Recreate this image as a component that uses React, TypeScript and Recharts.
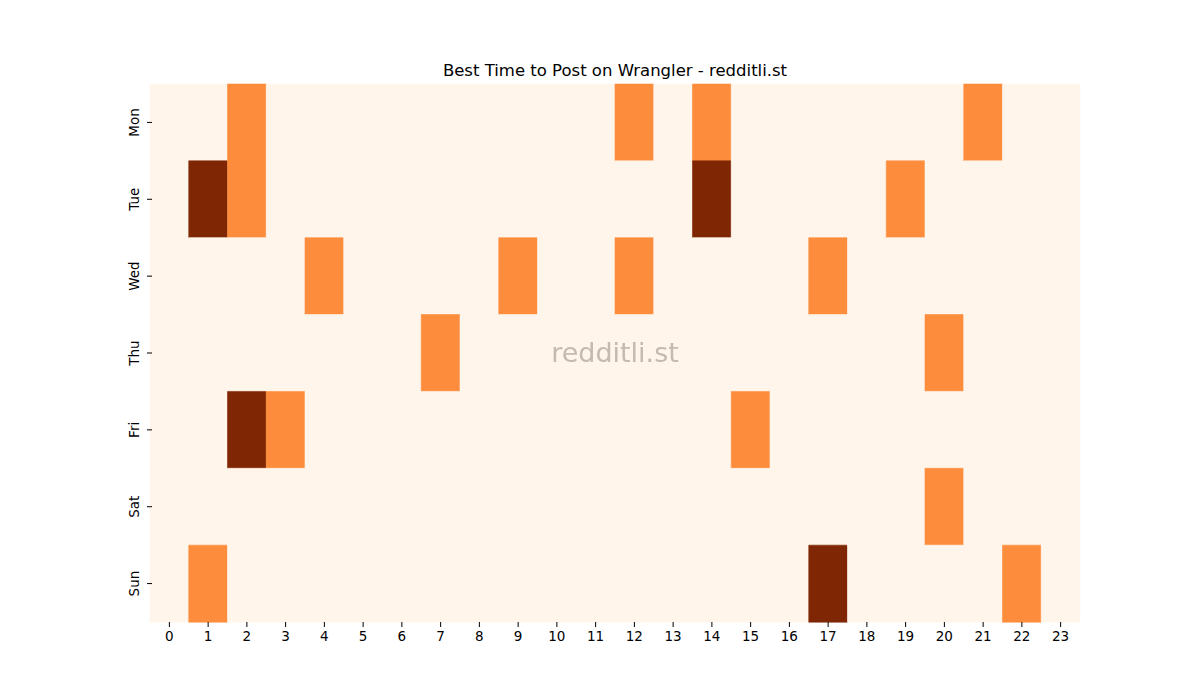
import { Bar, BarChart, Cell, XAxis, YAxis } from "recharts";

const DAYS = ["Mon", "Tue", "Wed", "Thu", "Fri", "Sat", "Sun"];
const HOURS = Array.from({ length: 24 }, (_, i) => i);

// 0 = none, 1 = good, 2 = best
const MON = [0, 0, 1, 0, 0, 0, 0, 0, 0, 0, 0, 0, 1, 0, 1, 0, 0, 0, 0, 0, 0, 1, 0, 0];
const TUE = [0, 2, 1, 0, 0, 0, 0, 0, 0, 0, 0, 0, 0, 0, 2, 0, 0, 0, 0, 1, 0, 0, 0, 0];
const WED = [0, 0, 0, 0, 1, 0, 0, 0, 0, 1, 0, 0, 1, 0, 0, 0, 0, 1, 0, 0, 0, 0, 0, 0];
const THU = [0, 0, 0, 0, 0, 0, 0, 1, 0, 0, 0, 0, 0, 0, 0, 0, 0, 0, 0, 0, 1, 0, 0, 0];
const FRI = [0, 0, 2, 1, 0, 0, 0, 0, 0, 0, 0, 0, 0, 0, 0, 1, 0, 0, 0, 0, 0, 0, 0, 0];
const SAT = [0, 0, 0, 0, 0, 0, 0, 0, 0, 0, 0, 0, 0, 0, 0, 0, 0, 0, 0, 0, 1, 0, 0, 0];
const SUN = [0, 1, 0, 0, 0, 0, 0, 0, 0, 0, 0, 0, 0, 0, 0, 0, 0, 2, 0, 0, 0, 0, 1, 0];

const GRID = [MON, TUE, WED, THU, FRI, SAT, SUN];
const PALETTE = ["#fff5eb", "#fd8d3c", "#7f2704"];
const FONT = "DejaVu Sans, sans-serif";

// each hour is a unit-wide stacked segment; colour comes from the grid value
const rows = DAYS.map((day, r) => {
  const row: Record<string, string | number> = { day };
  HOURS.forEach((h) => {
    row[`h${h}`] = 1;
    row[`v${h}`] = GRID[r][h];
  });
  return row;
});

const xTicks = HOURS.map((h) => h + 0.5);

function DayTick({ x, y, payload }: { x?: number; y?: number; payload?: { value: string } }) {
  const tx = (x ?? 0) - 3;
  return (
    <g>
      <line x1={(x ?? 0) + 5} x2={(x ?? 0) + 10} y1={y} y2={y} stroke="#000" strokeWidth={1} />
      <text
        x={tx}
        y={y}
        transform={`rotate(-90, ${tx}, ${y})`}
        textAnchor="middle"
        fontSize={13.5}
        fontFamily={FONT}
        fill="#000"
      >
        {payload?.value}
      </text>
    </g>
  );
}

export default function App() {
  return (
    <div style={{ position: "fixed", left: 0, top: 0, width: 1200, height: 700, background: "#fff" }}>
      <BarChart
        width={1200}
        height={700}
        data={rows}
        layout="vertical"
        barCategoryGap={0}
        margin={{ top: 84, right: 120, bottom: 48, left: 0 }}
      >
        <text x={615} y={76} textAnchor="middle" fontSize={16.5} fontFamily={FONT} fill="#000">
          Best Time to Post on Wrangler - redditli.st
        </text>
        <XAxis
          type="number"
          domain={[0, 24]}
          ticks={xTicks}
          interval={0}
          tickFormatter={(v: number) => String(Math.floor(v))}
          axisLine={false}
          tickLine={{ stroke: "#000" }}
          tickSize={5}
          tickMargin={4}
          height={30}
          tick={{ fill: "#000", fontSize: 13.5, fontFamily: FONT }}
        />
        <YAxis
          type="category"
          dataKey="day"
          width={150}
          axisLine={false}
          tickLine={false}
          tick={<DayTick />}
        />
        {HOURS.map((h) => (
          <Bar key={h} dataKey={`h${h}`} stackId="a" isAnimationActive={false}>
            {rows.map((row, r) => {
              const c = PALETTE[row[`v${h}`] as number];
              return <Cell key={r} fill={c} stroke={c} strokeWidth={0.6} />;
            })}
          </Bar>
        ))}
      </BarChart>
      <div
        style={{
          position: "absolute",
          left: 0,
          width: 1230,
          top: 334,
          textAlign: "center",
          fontFamily: FONT,
          fontSize: 27,
          lineHeight: "38px",
          color: "#c5b9b1",
          pointerEvents: "none",
        }}
      >
        redditli.st
      </div>
    </div>
  );
}
